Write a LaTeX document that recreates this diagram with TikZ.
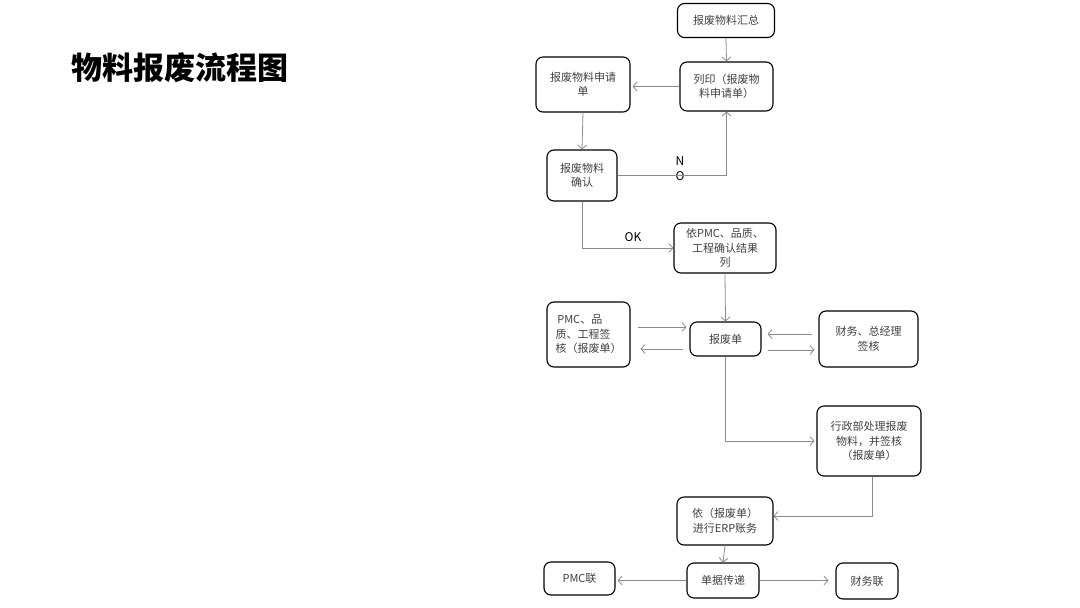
\documentclass[tikz,border=0pt]{standalone}
\usepackage{fontspec}
\newfontfamily\cjk{Noto Sans CJK SC}
\usetikzlibrary{arrows.meta}

\tikzset{
    kuang/.style={draw,line width=1.1pt,rounded corners=7pt,align=center,
        text=black!75,inner sep=2pt,font=\cjk\fontsize{11}{14.5}\selectfont},
    jiantou/.style={draw=black!45,line width=0.8pt,
        -{Straight Barb[length=4pt,width=9pt]}},
    biaoqian/.style={font=\cjk\fontsize{12}{15}\selectfont,align=center,inner sep=0pt}
}

\begin{document}
\begin{tikzpicture}[x=1pt,y=-1pt]

    \useasboundingbox (0,0) rectangle (1080,608);

    % titolo
    \node[anchor=west,font=\cjk\bfseries\fontsize{31}{31}\selectfont] (titolo)
        at (68,68) {物料报废流程图};

    % prima colonna
    \node[kuang,minimum width=97pt,minimum height=34pt] (huizong) at (726,20.5) {报废物料汇总};
    \node[kuang,minimum width=93pt,minimum height=49pt] (lieyin) at (726.5,86.5) {列印（报废物\\料申请单）};
    \node[kuang,minimum width=94pt,minimum height=55pt] (shenqing) at (583,84.5) {报废物料申请\\单};
    \node[kuang,minimum width=70pt,minimum height=51pt] (queren) at (582,175.5) {报废物料\\确认};
    \node[kuang,minimum width=102pt,minimum height=50pt] (yipmc) at (725,248) {依PMC、品质、\\工程确认结果\\列};

    % blocco centrale
    \node[kuang,minimum width=83pt,minimum height=65pt,align=left] (qianhe) at (588.5,334.5) {\,PMC、品\\质、工程签\\核（报废单）};
    \node[kuang,minimum width=71pt,minimum height=34pt] (baofei) at (725.5,339) {报废单};
    \node[kuang,minimum width=99pt,minimum height=56pt] (caiwu) at (868.5,339) {财务、总经理\\签核};
    \node[kuang,minimum width=104pt,minimum height=70pt] (xingzheng) at (869,441) {行政部处理报废\\物料，并签核\\（报废单）};

    % parte finale
    \node[kuang,minimum width=96pt,minimum height=48pt] (erp) at (725,521) {依（报废单）\\进行ERP账务};
    \node[kuang,minimum width=72pt,minimum height=35pt] (chuandi) at (723,580.5) {单据传递};
    \node[kuang,minimum width=71pt,minimum height=33pt] (pmclian) at (579.5,578.5) {PMC联};
    \node[kuang,minimum width=62pt,minimum height=36pt] (cwlian) at (867,581) {财务联};

    % etichette
    \node[biaoqian] (no) at (680,168.5) {N\\O};
    \node[biaoqian] (ok) at (633,237) {OK};

    % frecce
    \draw[jiantou] (huizong.south) -- (lieyin.north);
    \draw[jiantou,shorten >=2pt] (lieyin.west) -- (lieyin.west -| shenqing.east);
    \draw[jiantou] (shenqing.south) -- (queren.north);
    \draw[jiantou] (queren.east) -| (lieyin.south);
    \draw[jiantou] (queren.south) |- (yipmc.west);
    \draw[jiantou] (yipmc.south) -- (baofei.north);

    \draw[jiantou,shorten <=7pt,shorten >=3pt] ([yshift=7.5pt]qianhe.east) -- ([yshift=12pt]baofei.west);
    \draw[jiantou,shorten <=6pt,shorten >=10pt] ([yshift=-10pt]baofei.west) -- ([yshift=-14.5pt]qianhe.east);
    \draw[jiantou,shorten <=6pt,shorten >=6pt] ([yshift=5pt]caiwu.west) -- ([yshift=5pt]baofei.east);
    \draw[jiantou,shorten <=6pt,shorten >=4pt] ([yshift=-11pt]baofei.east) -- ([yshift=-11pt]caiwu.west);

    \draw[jiantou,shorten >=2pt] (baofei.south) |- (xingzheng.west);
    \draw[jiantou] ([xshift=3pt]xingzheng.south) |- ([yshift=5pt]erp.east);
    \draw[jiantou] (erp.south) -- (chuandi.north);
    \draw[jiantou,shorten >=2pt] (chuandi.west) -- (chuandi.west -| pmclian.east);
    \draw[jiantou,shorten >=7pt] (chuandi.east) -- (chuandi.east -| cwlian.west);

\end{tikzpicture}
\end{document}
